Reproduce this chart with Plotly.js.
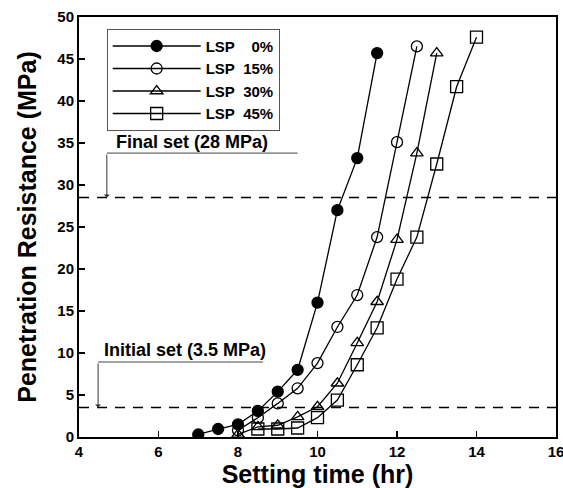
<!DOCTYPE html>
<html>
<head>
<meta charset="utf-8">
<script src="https://cdn.plot.ly/plotly-3.0.1.min.js"></script>
<style>html,body{margin:0;padding:0;background:#fff;}#chart{width:563px;height:488px;}</style>
</head>
<body>
<div id="chart"></div>
<script>
// Data
const seriesNames = ["LSP\u00a0\u00a0\u00a0\u00a00%", "LSP\u00a0\u00a015%", "LSP\u00a0\u00a030%", "LSP\u00a0\u00a045%"];
const x0  = [7, 7.5, 8, 8.5, 9, 9.5, 10, 10.5, 11, 11.5];
const y0  = [0.3, 0.95, 1.5, 3.1, 5.4, 8.0, 16.0, 27.0, 33.2, 45.7];
const x15 = [8, 8.5, 9, 9.5, 10, 10.5, 11, 11.5, 12, 12.5];
const y15 = [0.8, 2.3, 4.0, 5.8, 8.8, 13.1, 16.9, 23.8, 35.1, 46.5];
const x30 = [8, 8.5, 9, 9.5, 10, 10.5, 11, 11.5, 12, 12.5, 13];
const y30 = [0.3, 1.2, 1.4, 2.4, 3.6, 6.4, 11.2, 16.1, 23.5, 33.8, 45.7];
const x45 = [8.5, 9, 9.5, 10, 10.5, 11, 11.5, 12, 12.5, 13, 13.5, 14];
const y45 = [0.95, 0.95, 1.07, 2.3, 4.4, 8.6, 13.0, 18.8, 23.8, 32.5, 41.7, 47.6];
const initialSet = 3.5;
const finalSet = 28.5;
const xTicks = [4, 6, 8, 10, 12, 14, 16];
const yTicks = [0, 5, 10, 15, 20, 25, 30, 35, 40, 45, 50];

const symbols = ["circle", "circle-open", "triangle-up-open", "square-open"];
const sizes = [11, 11, 11, 12];
const xs = [x0, x15, x30, x45];
const ys = [y0, y15, y30, y45];

const traces = xs.map((x, i) => ({
  x: x, y: ys[i], name: seriesNames[i], type: "scatter", mode: "lines+markers",
  line: {color: "#000", width: 1.3},
  marker: {symbol: symbols[i], size: sizes[i], color: "#000", line: {color: "#000", width: 1.3}}
}));

const font = {family: "Liberation Sans, Arial, sans-serif", color: "#000"};
const bold = (s) => Object.assign({}, font, {size: s, weight: "bold"});

const layout = {
  width: 563, height: 488,
  margin: {l: 79, r: 7, t: 17, b: 51},
  paper_bgcolor: "#fff", plot_bgcolor: "#fff",
  showlegend: true,
  legend: {
    x: 0.058, y: 0.972, xanchor: "left", yanchor: "top",
    bordercolor: "#555", borderwidth: 1, bgcolor: "#fff",
    font: bold(15),
    tracegroupgap: 0, itemwidth: 88
  },
  xaxis: {
    range: [4, 16], tickvals: xTicks, ticktext: xTicks.map(String),
    ticks: "inside", ticklen: 6, tickwidth: 1.5, tickcolor: "#000",
    showline: true, linecolor: "#000", linewidth: 2, mirror: true,
    showgrid: false, zeroline: false, ticklabeloverflow: "allow",
    tickfont: bold(15),
    title: {text: "Setting time (hr)", standoff: 2, font: bold(25)}
  },
  yaxis: {
    range: [0, 50], tickvals: yTicks, ticktext: yTicks.map(String),
    ticks: "inside", ticklen: 6, tickwidth: 1.5, tickcolor: "#000",
    showline: true, linecolor: "#000", linewidth: 2, mirror: true,
    showgrid: false, zeroline: false,
    tickfont: bold(15),
    title: {text: "Penetration Resistance (MPa)", standoff: 14, font: bold(25)}
  },
  shapes: [
    {type: "line", xref: "paper", x0: 0, x1: 1, yref: "y", y0: finalSet, y1: finalSet,
     line: {color: "#000", width: 1.5, dash: "10px,8px"}},
    {type: "line", xref: "paper", x0: 0, x1: 1, yref: "y", y0: initialSet, y1: initialSet,
     line: {color: "#000", width: 1.5, dash: "10px,8px"}},
    {type: "line", xref: "x", yref: "y", x0: 4.7, x1: 9.5, y0: 33.8, y1: 33.8, line: {color: "#444", width: 1}},
    {type: "line", xref: "x", yref: "y", x0: 4.48, x1: 8.63, y0: 8.93, y1: 8.93, line: {color: "#444", width: 1}}
  ],
  annotations: [
    {x: 4.7, y: finalSet, ax: 4.7, ay: 33.8, axref: "x", ayref: "y", xref: "x", yref: "y",
     showarrow: true, arrowhead: 1, arrowsize: 1, arrowwidth: 1, arrowcolor: "#333", text: ""},
    {x: 4.48, y: initialSet, ax: 4.48, ay: 8.93, axref: "x", ayref: "y", xref: "x", yref: "y",
     showarrow: true, arrowhead: 1, arrowsize: 1, arrowwidth: 1, arrowcolor: "#333", text: ""},
    {x: 4.88, y: 35.1, xref: "x", yref: "y", xanchor: "left", showarrow: false,
     text: "Final set (28 MPa)", font: bold(18)},
    {x: 4.58, y: 10.4, xref: "x", yref: "y", xanchor: "left", showarrow: false,
     text: "Initial set (3.5 MPa)", font: bold(18)}
  ]
};

Plotly.newPlot("chart", traces, layout, {displayModeBar: false, staticPlot: true});
</script>
</body>
</html>
